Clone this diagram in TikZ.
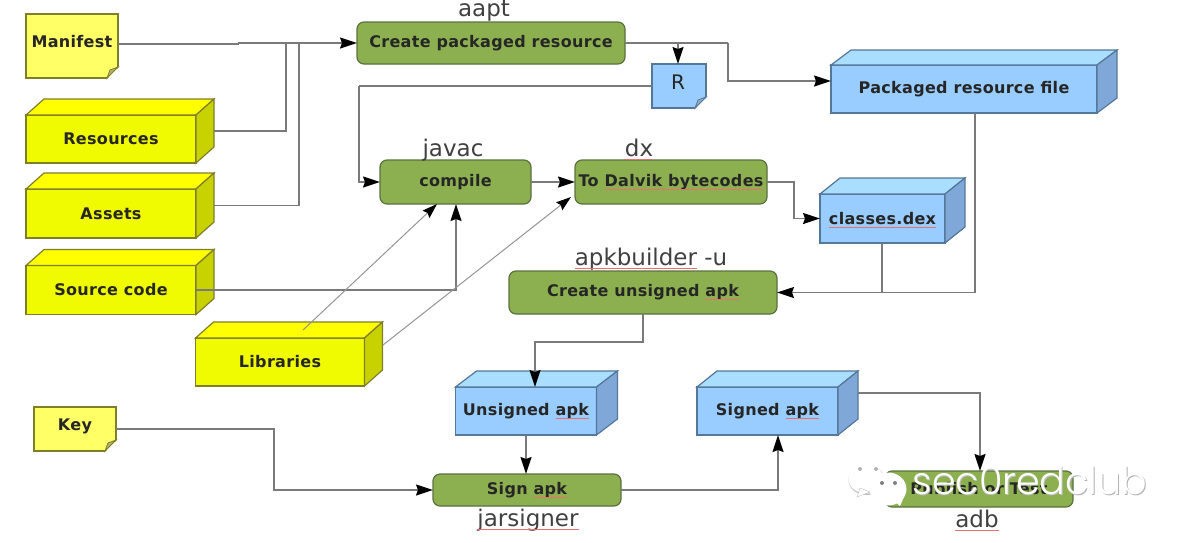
\documentclass[tikz,border=0pt]{standalone}
\usepackage{fontspec}
\setmainfont{DejaVu Sans}
\newfontfamily\boxfont{DejaVu Sans}[LetterSpace=2, BoldFont={DejaVu Sans Bold}]
\newfontfamily\markfont{Poppins Light}
\usetikzlibrary{arrows.meta}
\definecolor{lineg}{HTML}{7A7A7A}
\definecolor{edgeg}{HTML}{7F7F2A}
\definecolor{yelnote}{HTML}{FFFF66}
\definecolor{yelface}{HTML}{F0FA00}
\definecolor{yeltop}{HTML}{FFFF00}
\definecolor{yelside}{HTML}{C8D200}
\definecolor{bluface}{HTML}{99CCFF}
\definecolor{blutop}{HTML}{AADEFF}
\definecolor{bluside}{HTML}{7FA8D8}
\definecolor{bluedge}{HTML}{55779A}
\definecolor{grnface}{HTML}{8CB050}
\definecolor{grnedge}{HTML}{5C7040}
\definecolor{wavered}{HTML}{E87070}
\newsavebox{\wavesave}
\newcommand{\wavy}[1]{\sbox{\wavesave}{#1}\usebox{\wavesave}\llap{\smash{\textcolor{wavered}{\rule[-3.5pt]{\wd\wavesave}{1pt}}}}}
\tikzset{
  boxtext/.style={font=\boxfont\bfseries\fontsize{16}{19}\selectfont, text=black!85},
  toollabel/.style={font=\fontsize{23}{26}\selectfont, text=black!75, inner sep=0pt, anchor=base},
  facebox/.style={boxtext, draw, line width=1.2pt, inner sep=0pt, outer sep=0pt},
  yelbox/.style={facebox, draw=edgeg, fill=yelface},
  blubox/.style={facebox, draw=bluedge, fill=bluface},
  yelnotebox/.style={facebox, draw=edgeg, fill=yelnote},
  blunotebox/.style={facebox, draw=bluedge, fill=bluface},
  stepbox/.style={facebox, draw=grnedge, fill=grnface, rounded corners=7pt},
  link/.style={draw=lineg, line width=1.4pt},
  linkto/.style={link, -{Stealth[length=17pt,width=11pt,inset=2pt,color=black]}},
  thinto/.style={draw=lineg!80, line width=1pt, -{Stealth[length=15pt,width=10pt,inset=2pt,color=black]}},
  yeledge/.style={draw=edgeg, line width=1.2pt},
  bluedge/.style={draw=bluedge, line width=1.2pt}
}
% front face, then the top and the side: name, x, y, w, h, dx, dy, colour, text
\newcommand{\solidbox}[9]{
  \node[#8box, minimum width=#4pt, minimum height=#5pt] (#1) at (#2,#3) {#9};
  \filldraw[#8edge, fill=#8top] (#1.north west) -- ++(#6,-#7) -- ([shift={(#6,-#7)}]#1.north east) -- (#1.north east) -- cycle;
  \filldraw[#8edge, fill=#8side] (#1.north east) -- ++(#6,-#7) -- ([shift={(#6,-#7)}]#1.south east) -- (#1.south east) -- cycle;
  \coordinate (#1side) at ([shift={(#6,-8)}]#1.east);
}
% a note with its corner turned up
\newcommand{\notefold}[2]{
  \fill[white] ([shift={(1,1)}]#1.south east) -- ++(-12,0) -- ++(12,-12) -- cycle;
  \filldraw[draw=#2, fill=#2!60, line width=0.8pt] ([xshift=-11pt]#1.south east) -- ++(3,-8) -- ++(8,-3) -- cycle;
}
\begin{document}
\begin{tikzpicture}[x=1pt, y=-1pt, >=stealth]
  \useasboundingbox (0,0) rectangle (1186,542);

  \node[yelnotebox, minimum width=92pt, minimum height=64pt] (manifest) at (72,46) {};
  \node[boxtext, inner sep=0pt] (manifesttext) at (72,42) {Manifest};
  \notefold{manifest}{edgeg}
  \solidbox{resources}{111}{139}{170}{48}{18}{16}{yel}{Resources}
  \solidbox{assets}{111}{213.5}{170}{49}{18}{16}{yel}{Assets}
  \solidbox{source}{111}{290}{170}{49}{18}{16}{yel}{Source code}
  \solidbox{libraries}{280}{362}{169}{48}{18}{16}{yel}{Libraries}
  \node[yelnotebox, minimum width=82pt, minimum height=44pt] (key) at (75,429) {};
  \node[boxtext, inner sep=0pt] (keytext) at (75,426) {Key};
  \notefold{key}{edgeg}

  \node[stepbox, minimum width=268pt, minimum height=42pt] (packres) at (491,43) {Create packaged resource};
  \node[toollabel] (aapt) at (484,16) {aapt};
  \node[blunotebox, minimum width=54pt, minimum height=44pt] (rfile) at (679,86) {};
  \node[boxtext, inner sep=0pt, font=\fontsize{20}{22}\selectfont] (rtext) at (678,82) {R};
  \notefold{rfile}{bluedge}
  \solidbox{packfile}{964}{89}{266}{48}{20}{15}{blu}{Packaged resource file}

  \node[stepbox, minimum width=151pt, minimum height=44pt] (compile) at (455.5,182) {compile};
  \node[toollabel] (javac) at (453,156) {javac};
  \node[stepbox, minimum width=192pt, minimum height=44pt] (dalvik) at (671,182) {To \wavy{Dalvik bytecodes}};
  \node[toollabel] (dx) at (639,156) {\wavy{dx}};
  \solidbox{classes}{882.5}{218.5}{125}{49}{20}{16}{blu}{\wavy{classes.dex}}

  \node[stepbox, minimum width=268pt, minimum height=43pt] (unsigned) at (643,292.5) {Create unsigned \wavy{apk}};
  \node[toollabel] (builder) at (651,265) {\wavy{apkbuilder} -u};
  \solidbox{unsapk}{526}{411}{141}{48}{21}{16}{blu}{Unsigned \wavy{apk}}
  \solidbox{sigapk}{767.5}{411}{141}{48}{20}{16}{blu}{Signed \wavy{apk}}

  \node[stepbox, minimum width=188pt, minimum height=32pt] (sign) at (527,490) {Sign \wavy{apk}};
  \node[toollabel] (jarsigner) at (528,526) {\wavy{jarsigner}};
  \node[stepbox, minimum width=188pt, minimum height=36pt] (publish) at (979,489) {Publish or Test};
  \node[toollabel] (adb) at (977,527) {\wavy{adb}};

  \coordinate (manout) at (118,44);
  \coordinate (jog) at (238,43);
  \coordinate (joinres) at (286,43);
  \coordinate (joinass) at (299,43);
  \coordinate (rtap) at (678,43);
  \coordinate (packturn) at (728,43);
  \coordinate (packin) at (831,81);
  \coordinate (rturn) at (359,86);
  \coordinate (dalturn) at (794,182);
  \coordinate (packdown) at (975,113);
  \coordinate (clsdown) at (882,243);
  \coordinate (clsjoin) at (882,292.5);
  \coordinate (unsdown) at (643,314);
  \coordinate (unsturn) at (535,342);
  \coordinate (libup) at (303,330);
  \coordinate (libright) at (383,345);
  \coordinate (compin) at (437,204);
  \coordinate (dalin) at (571,197);
  \coordinate (srcup) at (456,204);
  \coordinate (signout) at (778,490);
  \coordinate (keyturn) at (274,429);
  \coordinate (sigout) at (858,393);
  \coordinate (adbin) at (980,471);

  \draw[link] (manout) -- (jog |- manout) -- (jog);
  \draw[linkto] (jog) -- (packres.west);
  \draw[link] (resourcesside) -| (joinres);
  \draw[link] (assetsside) -| (joinass);
  \draw[link] (packres.east) -- (packturn);
  \draw[linkto] (packturn) |- (packin);
  \draw[linkto] (rtap) -- (rtap |- rfile.north);
  \draw[link] (rfile.west) -- (rturn);
  \draw[linkto] (rturn) |- (compile.west);
  \draw[linkto] (compile.east) -- (dalvik.west);
  \draw[linkto] (dalvik.east) -- (dalturn) |- (classes.west);
  \draw[linkto] (packdown) |- (unsigned.east);
  \draw[link] (clsdown) -- (clsjoin);
  \draw[linkto] (source.east) -| (srcup);
  \draw[thinto] (libup) -- (compin);
  \draw[thinto] (libright) -- (dalin);
  \draw[linkto] (unsdown) |- (unsturn) -- (unsturn |- unsapk.north);
  \draw[linkto] (unsapk.south) -- (unsapk.south |- sign.north);
  \draw[linkto] (key.east) -- (keyturn) |- (sign.west);
  \draw[linkto] (sign.east) -- (signout) -- (signout |- sigapk.south);
  \draw[linkto] (sigout) -| (adbin);

  % the mark laid over the corner
  \fill[black!25] (866.5,480) ellipse (18 and 15);
  \fill[white] (866,479) ellipse (17.5 and 14.5);
  \fill[white, draw=black!25] (857,497) -- (860,488) -- (870,492) -- cycle;
  \fill[black!30] (860,469) circle (2) (876,469) circle (2);
  \fill[white] (888,489) ellipse (18.5 and 16.5);
  \fill[white] (893,500) -- (900,506) -- (904,497) -- cycle;
  \fill[black!50] (882,483) circle (2) (895,483) circle (2);
  \node[font=\markfont\fontsize{38}{40}\selectfont, text=black!25, inner sep=0pt] (markshade) at (1030.6,481.6) {sec0red\textcolor{black!30}{club}};
  \node[font=\markfont\fontsize{38}{40}\selectfont, text=white, inner sep=0pt] (mark) at (1030,481) {sec0red\textcolor{white}{club}};
\end{tikzpicture}
\end{document}
